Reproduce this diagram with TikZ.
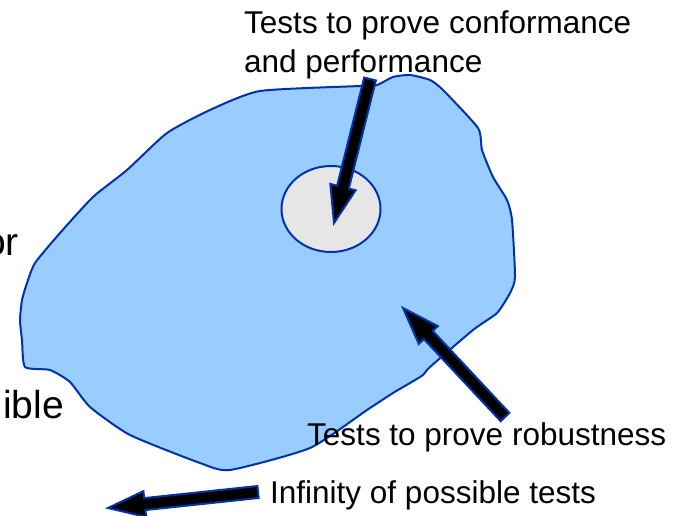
\documentclass[tikz,border=0pt]{standalone}
\usepackage{fontspec}
\setmainfont{Liberation Sans}
\usetikzlibrary{calc,shapes.geometric}
\definecolor{blobfill}{RGB}{153,204,255}
\definecolor{edgeblue}{RGB}{0,51,170}
\definecolor{coregray}{RGB}{230,230,230}
\tikzset{
  fatarrow/.style={fill=black, draw=edgeblue, line width=2pt, line join=miter},
  lbl/.style={font=\fontsize{31.5}{39}\selectfont, align=left, inner sep=0pt},
  cutlbl/.style={font=\fontsize{39}{45}\selectfont, inner sep=0pt}
}
% fat block arrow from #1 (tail) to #2 (tip)
\newcommand{\fatarrow}[2]{%
  \coordinate (hb) at ($(#2)!37pt!(#1)$);
  \draw[fatarrow] ($(#1)!6pt!90:(#2)$) -- ($(hb)!6pt!90:(#2)$) -- ($(hb)!13pt!90:(#2)$)
    -- (#2) -- ($(hb)!13pt!-90:(#2)$) -- ($(hb)!6pt!-90:(#2)$) -- ($(#1)!6pt!-90:(#2)$) -- cycle;}
\begin{document}
\begin{tikzpicture}[x=1pt, y=-1pt]
\useasboundingbox (0,0) rectangle (688,516);
% Region of robustness tests
\draw[fill=blobfill, draw=edgeblue, line width=2pt] plot[smooth cycle, tension=0.35] coordinates {
  (35,263) (60,233) (93,197) (127,170) (167,133) (210,110) (260,91) (360,86) (377,85)
  (393,77) (410,75) (430,80) (443,90) (478,128) (482,150) (493,177) (507,200) (512,220)
  (515,277) (510,293) (497,313) (473,330) (430,367) (423,375) (410,383) (393,393) (367,410)
  (310,448) (230,470) (200,463) (130,435) (90,407) (70,382) (50,370) (25,367) (22,340)
  (20,320) (22,300) (27,283)};
% Conformance core
\node[ellipse, draw=edgeblue, fill=coregray, line width=2pt, minimum width=99pt, minimum height=86pt, inner sep=0pt] (core) at (331,209) {};
% Labels
\node[lbl, anchor=north west] (conflbl) at (244,11) {Tests to prove conformance\\and performance};
\node[lbl, anchor=base west] (roblbl) at (307,445) {Tests to prove robustness};
\node[lbl, anchor=base west] (inflbl) at (270,503) {Infinity of possible tests};
\node[cutlbl, anchor=base east] (cutor) at (19,255) {or};
\node[cutlbl, anchor=base east] (cutible) at (64,418) {ible};
% Arrows
\coordinate (conftail) at (370,79);
\coordinate (conftip) at (334,223);
\coordinate (robtail) at (505,417);
\coordinate (robtip) at (403,308);
\coordinate (inftail) at (258,492);
\coordinate (inftip) at (108,508);
\fatarrow{conftail}{conftip}
\fatarrow{robtail}{robtip}
\fatarrow{inftail}{inftip}
\end{tikzpicture}
\end{document}
